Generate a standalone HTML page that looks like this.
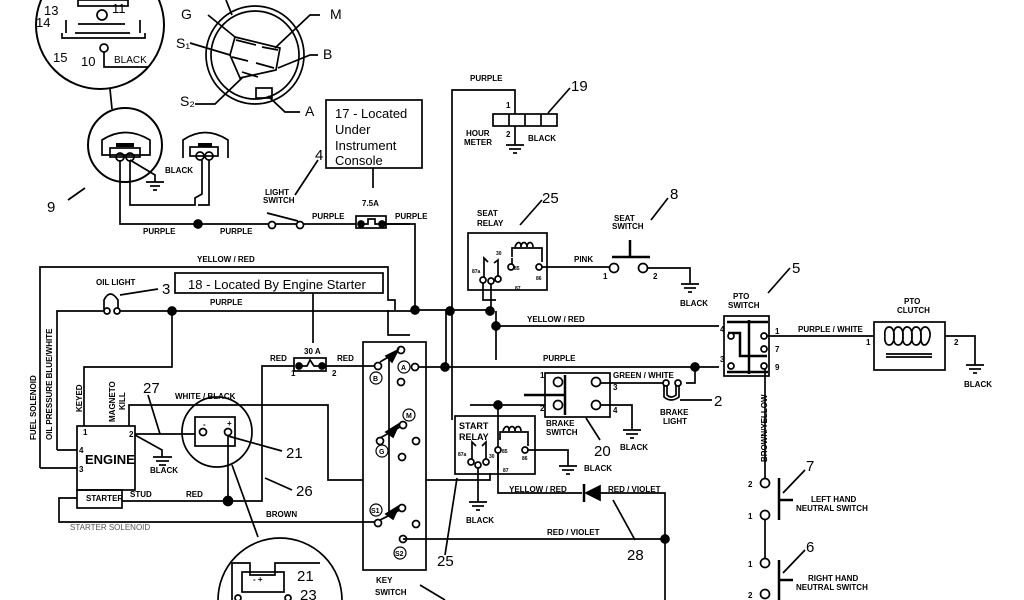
<!DOCTYPE html>
<html><head><meta charset="utf-8"><style>
html,body{margin:0;padding:0;background:#fff;width:1024px;height:600px;overflow:hidden}
svg{display:block}
text{font-family:"Liberation Sans",sans-serif;font-weight:bold;fill:#000}
.s{font-size:8px}
.n{font-size:15px;font-weight:normal}
.b{font-size:13px;font-weight:normal}
</style></head><body>
<svg width="1024" height="600" viewBox="0 0 1024 600" xmlns="http://www.w3.org/2000/svg" fill="none" stroke="#000" stroke-width="1.7">
<circle cx="100" cy="25" r="64" stroke-width="2"/>
<rect x="78" y="0" width="50" height="6"/>
<line x1="78" y1="24" x2="125" y2="24"/><line x1="75" y1="33" x2="130" y2="33"/>
<polyline points="62,33 62,38 145,38 145,33"/>
<circle cx="102" cy="15" r="5"/><circle cx="104" cy="48" r="4"/>
<polyline points="104,52 104,67 148,67"/>
<line x1="66" y1="20" x2="66" y2="33"/><line x1="140" y1="20" x2="140" y2="33"/>
<line x1="110" y1="89" x2="112" y2="109"/>
<g stroke="none"><text x="44" y="15" class="b">13</text><text x="112" y="13" class="b">11</text><text x="36" y="27" class="b">14</text><text x="53" y="62" class="b">15</text><text x="81" y="66" class="b">10</text><text x="114" y="63" style="font-size:10px;font-weight:normal">BLACK</text></g>
<circle cx="125" cy="145" r="37" stroke-width="2"/>
<path d="M102,155 L102,140 Q125,125 150,140 L150,155 Z"/>
<rect x="110" y="148" width="30" height="9"/>
<circle cx="120" cy="157" r="4"/><circle cx="130" cy="157" r="4"/>
<line x1="116" y1="145" x2="134" y2="145" stroke-width="4"/>
<polyline points="130,160 155,175 155,182"/>
<line x1="146" y1="182" x2="164" y2="182"/><line x1="150" y1="186" x2="160" y2="186"/><line x1="153" y1="190" x2="157" y2="190"/>
<text x="165" y="173" class="s" stroke="none">BLACK</text>
<line x1="85" y1="188" x2="68" y2="200"/>
<text x="47" y="212" class="b" stroke="none" style="font-size:15px">9</text>
<path d="M183,158 L183,140 Q205,125 228,140 L228,158"/>
<rect x="190" y="147" width="28" height="9"/>
<circle cx="200" cy="156" r="4"/><circle cx="209" cy="156" r="4"/>
<line x1="198" y1="145" x2="212" y2="145" stroke-width="4"/>
<polyline points="120,160 120,224 410,224"/>
<polyline points="130,160 130,205 195,205 195,198 202,194 202,160"/>
<polyline points="209,160 209,205 198,205"/>
<circle cx="198" cy="224" r="4" fill="#000"/>
<g stroke="none"><text x="143" y="234" class="s">PURPLE</text><text x="220" y="234" class="s">PURPLE</text></g>
<circle cx="255" cy="55" r="49"/><circle cx="255" cy="55" r="44"/>
<polyline points="235,37 280,48 276,70 240,78 230,55 235,37"/>
<line x1="236" y1="40" x2="256" y2="45"/><line x1="262" y1="47" x2="278" y2="50"/>
<line x1="232" y1="57" x2="248" y2="61"/><line x1="256" y1="63" x2="274" y2="68"/>
<line x1="242" y1="72" x2="258" y2="77"/>
<rect x="256" y="88" width="16" height="10"/>
<polyline points="208,15 235,37"/><polyline points="190,43 230,55"/><polyline points="195,104 215,104 243,77"/>
<polyline points="320,15 310,15 275,48"/><polyline points="318,55 310,55 278,68"/><polyline points="300,112 285,112 268,96"/>
<line x1="232" y1="15" x2="226" y2="0"/>
<g stroke="none"><text x="181" y="19" style="font-weight:normal;font-size:14px">G</text><text x="176" y="48" style="font-weight:normal;font-size:14px">S₁</text><text x="180" y="106" style="font-weight:normal;font-size:14px">S₂</text><text x="330" y="19" style="font-weight:normal;font-size:14px">M</text><text x="323" y="59" style="font-weight:normal;font-size:14px">B</text><text x="305" y="116" style="font-weight:normal;font-size:14px">A</text></g>
<rect x="326" y="100" width="96" height="68"/>
<g stroke="none"><text x="335" y="118" class="b">17 - Located</text><text x="335" y="134" class="b">Under</text><text x="335" y="150" class="b">Instrument</text><text x="335" y="165" class="b">Console</text></g>
<line x1="373" y1="168" x2="373" y2="188"/>
<text x="362" y="206" class="s" stroke="none">7.5A</text>
<circle cx="272" cy="225" r="3.5" fill="#fff"/><circle cx="300" cy="225" r="3.5" fill="#fff"/>
<line x1="267" y1="213" x2="298" y2="221"/>
<line x1="295" y1="195" x2="318" y2="160"/>
<g stroke="none"><text x="315" y="160" class="n">4</text><text x="265" y="195" class="s">LIGHT</text><text x="263" y="203" class="s">SWITCH</text><text x="312" y="219" class="s">PURPLE</text><text x="395" y="219" class="s">PURPLE</text></g>
<rect x="356" y="216" width="30" height="12" fill="#fff"/>
<circle cx="361" cy="224" r="3" fill="#000"/><circle cx="382" cy="224" r="3" fill="#000"/>
<polyline points="364,224 368,224 368,219 375,219 375,224 379,224"/>
<polyline points="386,224 415,224 415,310"/>
<polyline points="452,420 452,90 515,90 515,114"/>
<rect x="493" y="114" width="64" height="12"/>
<line x1="509" y1="114" x2="509" y2="126"/><line x1="525" y1="114" x2="525" y2="126"/><line x1="541" y1="114" x2="541" y2="126"/>
<line x1="515" y1="126" x2="515" y2="145"/><line x1="506" y1="145" x2="524" y2="145"/><line x1="509" y1="149" x2="521" y2="149"/><line x1="513" y1="153" x2="517" y2="153"/>
<line x1="548" y1="113" x2="570" y2="88"/>
<g stroke="none"><text x="470" y="81" class="s">PURPLE</text><text x="506" y="108" class="s">1</text><text x="506" y="137" class="s">2</text><text x="466" y="136" class="s">HOUR</text><text x="464" y="145" class="s">METER</text><text x="528" y="141" class="s">BLACK</text><text x="571" y="91" class="n">19</text></g>
<polyline points="40,468 40,267 388,267 388,300 395,300 395,310"/>
<text x="197" y="262" class="s" stroke="none">YELLOW / RED</text>
<path d="M104,310 L104,300 Q110,288 118,300 L118,310"/>
<circle cx="107" cy="311" r="3" fill="#fff"/><circle cx="117" cy="311" r="3" fill="#fff"/>
<line x1="120" y1="295" x2="158" y2="289"/>
<g stroke="none"><text x="96" y="285" class="s">OIL LIGHT</text><text x="162" y="294" class="n">3</text></g>
<polyline points="57,450 57,311 104,311"/>
<line x1="120" y1="311" x2="415" y2="311"/>
<circle cx="172" cy="311" r="4" fill="#000"/>
<polyline points="172,311 172,367 84,367 84,426"/>
<text x="210" y="305" class="s" stroke="none">PURPLE</text>
<rect x="175" y="273" width="208" height="20"/>
<text x="188" y="289" class="b" stroke="none">18 - Located By Engine Starter</text>
<line x1="313" y1="293" x2="313" y2="343"/>
<g stroke="none"><text transform="translate(36,440) rotate(-90)" class="s">FUEL SOLENOID</text><text transform="translate(52,440) rotate(-90)" class="s">OIL PRESSURE  BLUE/WHITE</text><text transform="translate(82,412) rotate(-90)" class="s">KEYED</text><text transform="translate(115,422) rotate(-90)" class="s">MAGNETO</text><text transform="translate(125,410) rotate(-90)" class="s">KILL</text></g>
<rect x="77" y="426" width="58" height="64"/>
<rect x="77" y="490" width="45" height="18"/>
<polyline points="57,450 77,450"/><polyline points="40,468 77,468"/>
<g stroke="none"><text x="83" y="435" class="s">1</text><text x="129" y="437" class="s">2</text><text x="79" y="453" class="s">4</text><text x="79" y="472" class="s">3</text><text x="85" y="464" class="b" style="font-weight:bold">ENGINE</text><text x="86" y="501" class="s">STARTER</text><text x="130" y="497" class="s">STUD</text><text x="70" y="530" style="font-size:8px;font-weight:normal;fill:#555">STARTER SOLENOID</text></g>
<polyline points="129,426 129,405 328,405 328,480 363,480"/>
<polyline points="135,434 195,434"/>
<polyline points="135,435 162,450 162,457"/>
<line x1="153" y1="457" x2="172" y2="457"/><line x1="156" y1="461" x2="169" y2="461"/><line x1="159" y1="465" x2="166" y2="465"/>
<line x1="160" y1="434" x2="148" y2="395"/>
<g stroke="none"><text x="143" y="393" class="n">27</text><text x="150" y="473" class="s">BLACK</text><text x="175" y="399" class="s">WHITE / BLACK</text></g>
<circle cx="217" cy="432" r="35"/>
<rect x="195" y="417" width="40" height="29"/>
<circle cx="203" cy="432" r="3.5" fill="#fff"/><circle cx="228" cy="432" r="3.5" fill="#fff"/>
<text x="203" y="427" class="s" stroke="none">-</text><text x="227" y="426" class="s" stroke="none">+</text>
<line x1="228" y1="436" x2="282" y2="451"/>
<text x="286" y="458" class="n" stroke="none">21</text>
<polyline points="228,436 228,501"/>
<polyline points="122,501 262,501 262,405"/>
<circle cx="228" cy="501" r="4.5" fill="#000"/>
<line x1="265" y1="478" x2="292" y2="490"/>
<g stroke="none"><text x="186" y="497" class="s">RED</text><text x="296" y="496" class="n">26</text><text x="266" y="517" class="s">BROWN</text></g>
<polyline points="77,498 59,498 59,522 378,522"/>
<line x1="232" y1="465" x2="258" y2="537"/>
<circle cx="280" cy="600" r="62"/>
<polyline points="232,600 232,563 250,563 250,575 275,575 275,563 320,563"/>
<rect x="242" y="572" width="42" height="20"/>
<text x="253" y="582" class="s" stroke="none">-    +</text>
<text x="297" y="581" class="n" stroke="none">21</text><text x="300" y="600" class="n" stroke="none">23</text>
<circle cx="238" cy="598" r="3"/><circle cx="288" cy="598" r="3"/>
<rect x="294" y="358" width="32" height="13"/>
<circle cx="299" cy="366" r="3" fill="#000"/><circle cx="322" cy="366" r="3" fill="#000"/>
<polyline points="302,366 307,366 310,360 314,366 319,366"/>
<polyline points="294,366 262,366 262,405"/>
<polyline points="326,366 375,366"/>
<g stroke="none"><text x="304" y="354" class="s">30 A</text><text x="270" y="361" class="s">RED</text><text x="337" y="361" class="s">RED</text><text x="291" y="376" class="s">1</text><text x="332" y="376" class="s">2</text></g>
<rect x="363" y="342" width="63" height="228"/>
<g fill="#fff">
<circle cx="378" cy="366" r="3.5"/><circle cx="401" cy="350" r="3.5"/><circle cx="401" cy="382" r="3.5"/><circle cx="415" cy="367" r="3.5"/>
<circle cx="403" cy="425" r="3.5"/><circle cx="380" cy="441" r="3.5"/><circle cx="416" cy="441" r="3.5"/><circle cx="402" cy="457" r="3.5"/>
<circle cx="402" cy="508" r="3.5"/><circle cx="378" cy="523" r="3.5"/><circle cx="416" cy="524" r="3.5"/><circle cx="403" cy="539" r="3.5"/>
</g>
<line x1="389" y1="358" x2="389" y2="515"/>
<line x1="380" y1="362" x2="397" y2="352"/><line x1="380" y1="438" x2="400" y2="427"/><line x1="380" y1="520" x2="400" y2="510"/>
<g fill="#000"><path d="M386,356 L398,350 L392,362 Z"/><path d="M386,432 L399,424 L393,437 Z"/><path d="M386,514 L399,506 L393,519 Z"/></g>
<g stroke-width="1.2"><circle cx="376" cy="378" r="6"/><circle cx="404" cy="367" r="6"/><circle cx="409" cy="415" r="6"/><circle cx="382" cy="451" r="6"/><circle cx="376" cy="510" r="6"/><circle cx="400" cy="553" r="6"/></g>
<g stroke="none"><text x="373" y="381" style="font-size:7px">B</text><text x="401" y="370" style="font-size:7px">A</text><text x="406" y="418" style="font-size:7px">M</text><text x="379" y="454" style="font-size:7px">G</text><text x="371" y="513" style="font-size:7px">S1</text><text x="395" y="556" style="font-size:7px">S2</text></g>
<g stroke="none"><text x="376" y="583" class="s">KEY</text><text x="375" y="595" class="s">SWITCH</text></g>
<line x1="420" y1="585" x2="445" y2="600"/>
<polyline points="419,367 719,367"/>
<circle cx="445" cy="367" r="4" fill="#000"/><circle cx="695" cy="367" r="4" fill="#000"/>
<circle cx="415" cy="310" r="4" fill="#000"/><circle cx="450" cy="311" r="4" fill="#000"/><circle cx="490" cy="311" r="4" fill="#000"/>
<polyline points="415,310 490,310"/>
<polyline points="388,310 388,335 410,335 Q415,326 420,335 L440,335 Q446,326 452,335 L470,335 L470,355 Q478,360 470,367 L470,398 L545,398"/>
<polyline points="496,311 496,360 Q503,367 496,374 L496,383 L545,383"/>
<polyline points="446,311 446,367"/>
<circle cx="496" cy="326" r="4" fill="#000"/>
<line x1="496" y1="326" x2="719" y2="326"/>
<circle cx="498" cy="405" r="4" fill="#000"/>
<polyline points="470,405 545,405"/>
<polyline points="426,480 490,480 490,473"/>
<polyline points="498,405 498,493 582,493"/>
<polyline points="403,539 665,539"/>
<polyline points="600,493 665,493 665,600"/>
<circle cx="665" cy="539" r="4" fill="#000"/>
<path d="M586,486 L586,500 L600,493 Z" fill="#000" transform="rotate(180 593 493)"/><line x1="584" y1="484" x2="584" y2="502" stroke-width="2.5"/>
<line x1="613" y1="500" x2="635" y2="540"/>
<g stroke="none"><text x="527" y="322" class="s">YELLOW / RED</text><text x="543" y="361" class="s">PURPLE</text><text x="509" y="492" class="s">YELLOW / RED</text><text x="608" y="492" class="s">RED / VIOLET</text><text x="547" y="535" class="s">RED / VIOLET</text><text x="627" y="560" class="n">28</text></g>
<rect x="468" y="233" width="79" height="57"/>
<path d="M512,257 L512,248 L542,248 L542,262 M512,258 L512,264"/>
<path d="M515,247 c2,-6 6,-6 6,0 c0,-6 6,-6 6,0 c0,-6 6,-6 6,0"/>
<g fill="#fff"><circle cx="483" cy="280" r="3"/><circle cx="491" cy="281" r="3"/><circle cx="498" cy="279" r="3"/><circle cx="511" cy="267" r="3"/><circle cx="539" cy="267" r="3"/></g>
<polyline points="484,277 484,258 488,262"/><polyline points="498,276 498,260 494,263"/>
<polyline points="491,284 491,311"/><polyline points="483,283 483,300 496,300"/>
<polyline points="542,267 609,267"/>
<g stroke="none"><text x="472" y="273" style="font-size:5px">87a</text><text x="496" y="255" style="font-size:5px">30</text><text x="514" y="270" style="font-size:5px">85</text><text x="536" y="280" style="font-size:5px">86</text><text x="515" y="290" style="font-size:5px">87</text></g>
<g stroke="none"><text x="477" y="216" class="s">SEAT</text><text x="477" y="226" class="s">RELAY</text><text x="542" y="203" class="n">25</text><text x="574" y="262" class="s">PINK</text></g>
<line x1="520" y1="225" x2="542" y2="200"/>
<circle cx="614" cy="268" r="4.5" fill="#fff"/><circle cx="643" cy="268" r="4.5" fill="#fff"/>
<line x1="612" y1="257" x2="650" y2="257" stroke-width="2.5"/><line x1="630" y1="240" x2="630" y2="257" stroke-width="2.5"/>
<polyline points="648,268 690,268 690,284"/>
<line x1="681" y1="284" x2="699" y2="284"/><line x1="684" y1="288" x2="696" y2="288"/><line x1="688" y1="292" x2="692" y2="292"/>
<line x1="651" y1="220" x2="668" y2="198"/>
<g stroke="none"><text x="614" y="221" class="s">SEAT</text><text x="612" y="229" class="s">SWITCH</text><text x="670" y="199" class="n">8</text><text x="603" y="279" class="s">1</text><text x="653" y="279" class="s">2</text><text x="680" y="306" class="s">BLACK</text></g>
<rect x="545" y="373" width="65" height="44"/>
<line x1="565" y1="375" x2="565" y2="415" stroke-width="2.5"/><line x1="524" y1="395" x2="565" y2="395" stroke-width="2.5"/>
<g fill="#fff"><circle cx="558" cy="382" r="4.5"/><circle cx="558" cy="405" r="4.5"/><circle cx="596" cy="382" r="4.5"/><circle cx="596" cy="405" r="4.5"/></g>
<polyline points="601,383 664,383"/><polyline points="601,405 632,405 632,430"/>
<line x1="623" y1="430" x2="641" y2="430"/><line x1="626" y1="434" x2="638" y2="434"/><line x1="630" y1="438" x2="634" y2="438"/>
<polyline points="686,383 695,383 695,367"/>
<path d="M664,385 L664,397 Q671,403 679,397 L679,385"/><path d="M667,385 L667,395 Q671,399 676,395 L676,385"/>
<circle cx="666" cy="383" r="3" fill="#fff"/><circle cx="678" cy="383" r="3" fill="#fff"/>
<line x1="680" y1="400" x2="712" y2="400"/>
<line x1="586" y1="418" x2="600" y2="440"/>
<g stroke="none"><text x="540" y="378" class="s">1</text><text x="540" y="411" class="s">2</text><text x="613" y="390" class="s">3</text><text x="613" y="413" class="s">4</text><text x="613" y="378" class="s">GREEN / WHITE</text><text x="546" y="426" class="s">BRAKE</text><text x="546" y="435" class="s">SWITCH</text><text x="594" y="456" class="n">20</text><text x="620" y="450" class="s">BLACK</text><text x="660" y="415" class="s">BRAKE</text><text x="663" y="424" class="s">LIGHT</text><text x="714" y="406" class="n">2</text></g>
<rect x="455" y="416" width="80" height="58"/>
<path d="M500,440 L500,432 L528,432 L528,446"/>
<path d="M503,431 c2,-6 6,-6 6,0 c0,-6 6,-6 6,0 c0,-6 6,-6 6,0"/>
<g fill="#fff"><circle cx="471" cy="462" r="3"/><circle cx="478" cy="465" r="3"/><circle cx="486" cy="462" r="3"/><circle cx="498" cy="450" r="3"/><circle cx="525" cy="450" r="3"/></g>
<polyline points="472,459 472,442 476,446"/><polyline points="486,459 486,442 482,446"/>
<polyline points="478,468 478,502"/><polyline points="498,453 498,470"/>
<polyline points="528,450 568,450 568,466"/>
<line x1="469" y1="502" x2="487" y2="502"/><line x1="472" y1="506" x2="484" y2="506"/><line x1="476" y1="510" x2="480" y2="510"/>
<line x1="559" y1="466" x2="577" y2="466"/><line x1="562" y1="470" x2="574" y2="470"/><line x1="566" y1="474" x2="570" y2="474"/>
<g stroke="none"><text x="458" y="456" style="font-size:5px">87a</text><text x="489" y="458" style="font-size:5px">30</text><text x="502" y="453" style="font-size:5px">85</text><text x="522" y="460" style="font-size:5px">86</text><text x="503" y="472" style="font-size:5px">87</text></g>
<g stroke="none"><text x="459" y="429" style="font-size:9px">START</text><text x="459" y="440" style="font-size:9px">RELAY</text><text x="466" y="523" class="s">BLACK</text><text x="584" y="471" class="s">BLACK</text><text x="437" y="566" class="n">25</text></g>
<line x1="457" y1="478" x2="445" y2="555"/>
<rect x="724" y="316" width="45" height="60"/>
<line x1="727" y1="322" x2="768" y2="322" stroke-width="2.5"/><line x1="749" y1="320" x2="749" y2="374" stroke-width="2.5"/>
<polyline points="728,333 740,333 740,356 767,356" stroke-width="2.5"/><line x1="727" y1="372" x2="768" y2="372" stroke-width="2.5"/>
<g fill="#fff"><circle cx="731" cy="336" r="3"/><circle cx="731" cy="366" r="3"/><circle cx="764" cy="336" r="3"/><circle cx="764" cy="349" r="3"/><circle cx="764" cy="366" r="3"/></g>
<polyline points="767,336 874,336"/><polyline points="945,336 975,336 975,365"/>
<line x1="966" y1="365" x2="984" y2="365"/><line x1="969" y1="369" x2="981" y2="369"/><line x1="973" y1="373" x2="977" y2="373"/>
<g stroke="none"><text x="733" y="299" class="s">PTO</text><text x="728" y="308" class="s">SWITCH</text><text x="792" y="273" class="n">5</text><text x="720" y="332" class="s">4</text><text x="720" y="362" class="s">3</text><text x="775" y="334" class="s">1</text><text x="775" y="352" class="s">7</text><text x="775" y="370" class="s">9</text><text x="798" y="332" class="s">PURPLE / WHITE</text><text x="904" y="304" class="s">PTO</text><text x="897" y="313" class="s">CLUTCH</text><text x="866" y="345" class="s">1</text><text x="954" y="345" class="s">2</text><text x="964" y="387" class="s">BLACK</text><text transform="translate(767,462) rotate(-90)" class="s">BROWN/YELLOW</text></g>
<line x1="768" y1="293" x2="790" y2="268"/>
<rect x="874" y="322" width="71" height="48"/>
<path d="M885,336 c-2,-12 10,-12 9,0 c-2,-12 10,-12 9,0 c-2,-12 10,-12 9,0 c-2,-12 10,-12 9,0 c-2,-12 10,-12 9,0 c-2,12 -10,12 -9,0 M885,336 c-2,12 10,12 9,0 c-2,12 10,12 9,0 c-2,12 10,12 9,0 c-2,12 10,12 9,0"/>
<line x1="886" y1="354" x2="932" y2="354"/><line x1="886" y1="357" x2="932" y2="357"/>
<polyline points="765,369 765,478"/>
<g fill="#fff"><circle cx="765" cy="483" r="4.5"/><circle cx="765" cy="515" r="4.5"/><circle cx="765" cy="563" r="4.5"/><circle cx="765" cy="594" r="4.5"/></g>
<line x1="765" y1="520" x2="765" y2="558"/>
<line x1="779" y1="478" x2="779" y2="520" stroke-width="2.5"/><line x1="779" y1="500" x2="793" y2="500" stroke-width="2.5"/>
<line x1="779" y1="560" x2="779" y2="600" stroke-width="2.5"/><line x1="779" y1="580" x2="793" y2="580" stroke-width="2.5"/>
<line x1="783" y1="493" x2="805" y2="470"/><line x1="783" y1="573" x2="805" y2="550"/>
<g stroke="none"><text x="748" y="487" class="s">2</text><text x="748" y="519" class="s">1</text><text x="748" y="567" class="s">1</text><text x="748" y="598" class="s">2</text><text x="806" y="471" class="n">7</text><text x="806" y="552" class="n">6</text><text x="811" y="502" class="s">LEFT HAND</text><text x="796" y="511" class="s">NEUTRAL SWITCH</text><text x="808" y="581" class="s">RIGHT HAND</text><text x="796" y="590" class="s">NEUTRAL SWITCH</text></g>
</svg>
</body></html>
